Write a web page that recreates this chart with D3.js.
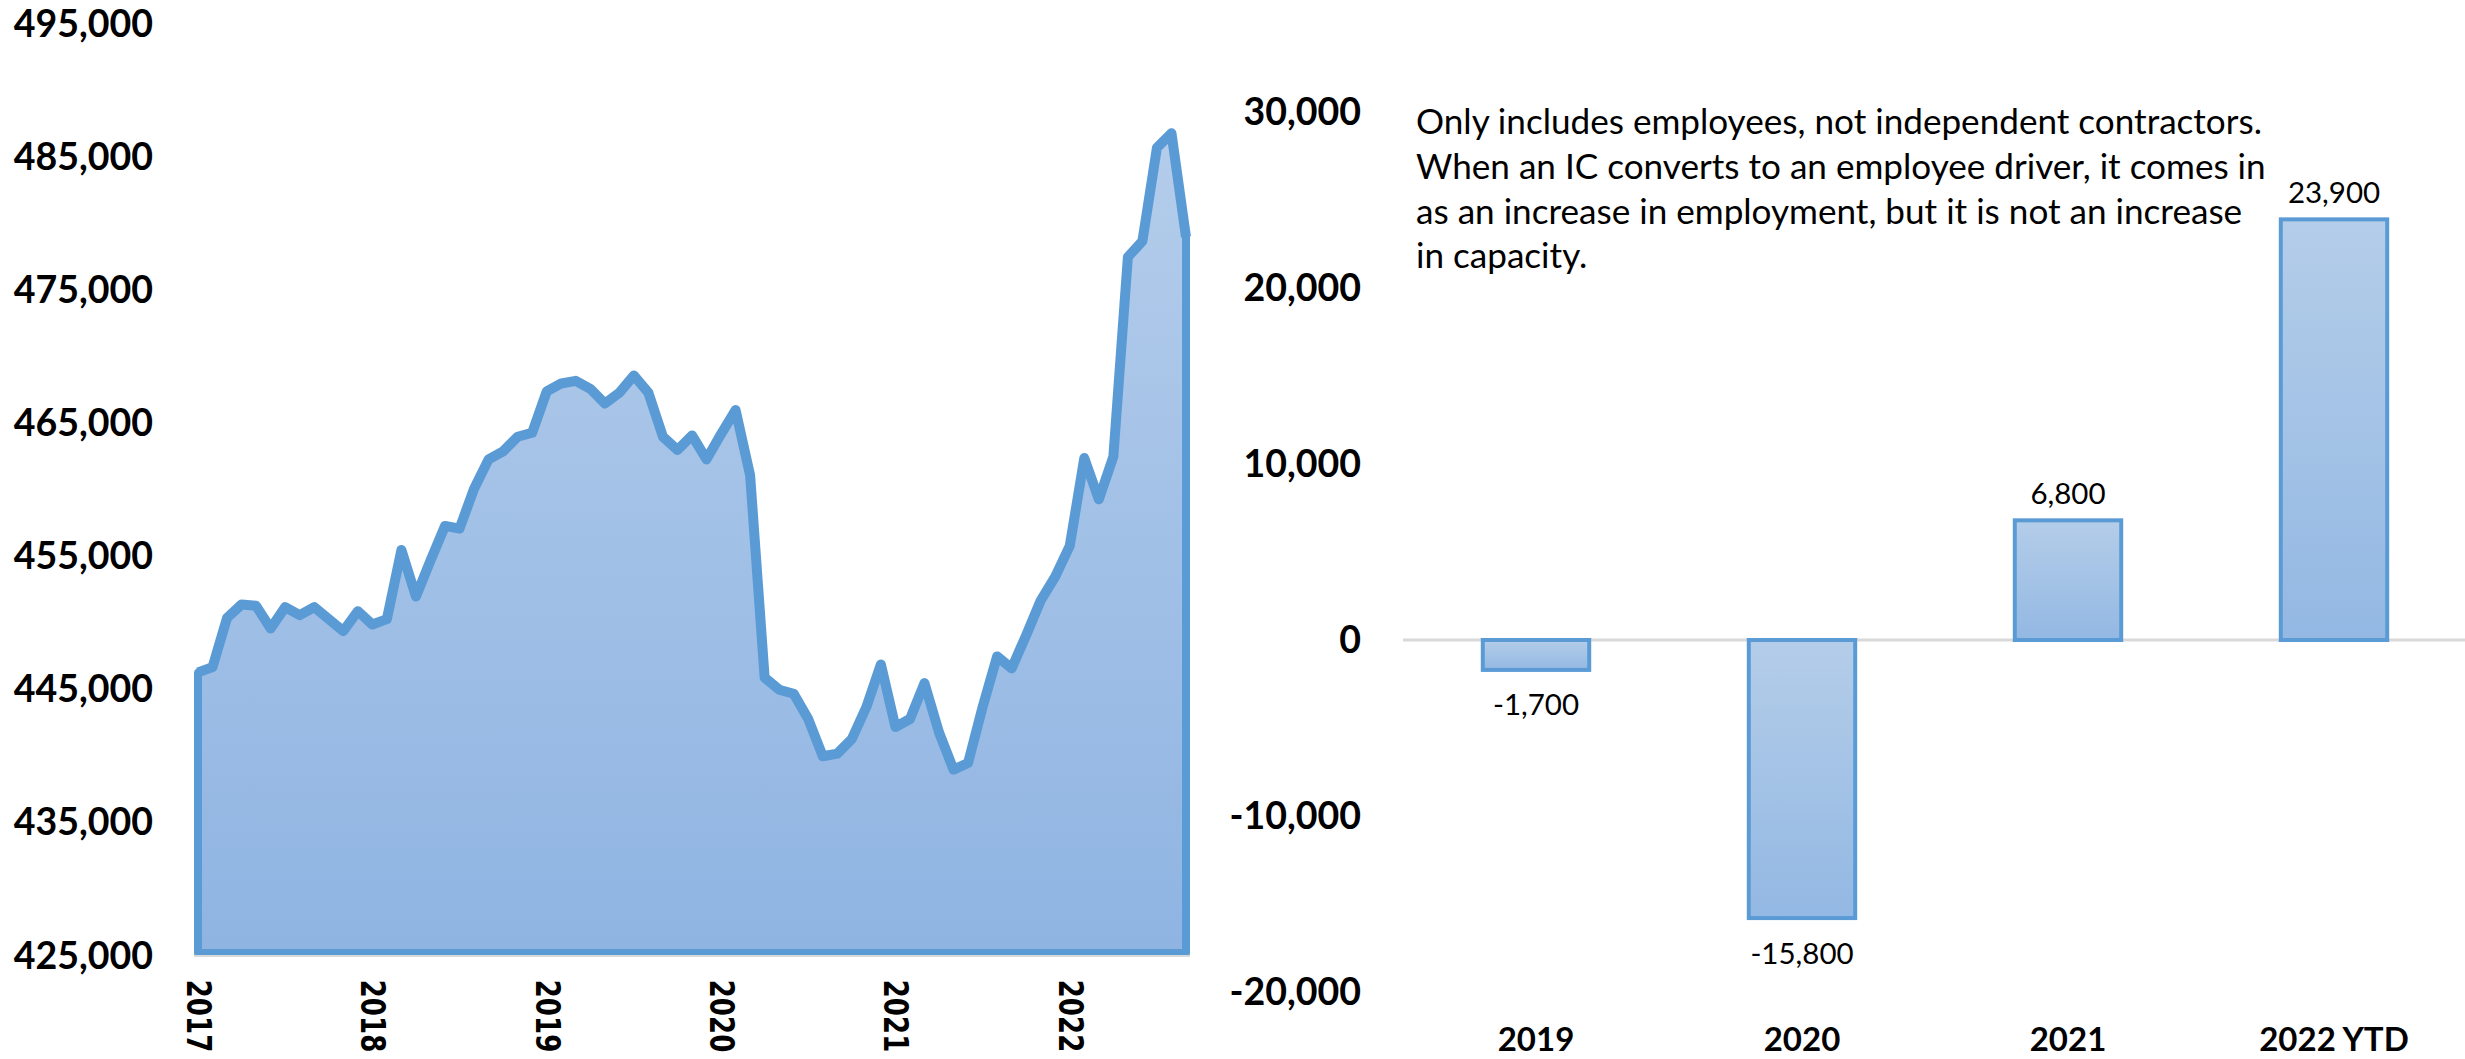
<!DOCTYPE html>
<html><head><meta charset="utf-8">
<script src="https://cdn.jsdelivr.net/npm/d3@7"></script>
<style>html,body{margin:0;padding:0;background:#fff;} svg{display:block;}</style>
</head><body>
<svg id="chart" width="2465" height="1059"></svg>
<script>
// ---------------- DATA ----------------
// Monthly employment, Jan 2017 .. Sep 2022
const employment = [
  446300, 446700, 450400, 451400, 451300, 449600, 451200, 450600, 451200, 450300, 449400, 450900,
  449900, 450300, 455500, 452000, 454700, 457300, 457100, 460100, 462300, 462900, 464000, 464300,
  467400, 468000, 468200, 467600, 466500, 467300, 468600, 467300, 464000, 463000, 464100, 462300,
  464200, 466000, 461100, 445900, 445000, 444700, 442800, 440000, 440200, 441300, 443700, 446900,
  442200, 442800, 445500, 441800, 439000, 439500, 443700, 447500, 446600, 449100, 451700, 453500,
  455800, 462400, 459300, 462500, 477500, 478700, 485700, 486800, 479000
];
const yearLabels = ["2017", "2018", "2019", "2020", "2021", "2022"];
const leftTicks = [425000, 435000, 445000, 455000, 465000, 475000, 485000, 495000];

const barCategories = ["2019", "2020", "2021", "2022 YTD"];
const barValues = [-1700, -15800, 6800, 23900];
const rightTicks = [-20000, -10000, 0, 10000, 20000, 30000];

const noteLines = [
  "Only includes employees, not independent contractors.",
  "When an IC converts to an employee driver, it comes in",
  "as an increase in employment, but it is not an increase",
  "in capacity."
];

// ---------------- STYLE ----------------
const LINE = "#5b9bd5";
const FONT = "Lato, 'Open Sans', sans-serif";
const fmt = d3.formatLocale({decimal: ".", thousands: ",", grouping: [3], currency: ["$", ""], minus: "-"}).format(",");

const svg = d3.select("#chart");
svg.append("rect").attr("width", 2465).attr("height", 1059).attr("fill", "#fff");
const defs = svg.append("defs");

// ---------------- LEFT CHART ----------------
const xL = d3.scaleLinear().domain([0, employment.length - 1]).range([198, 1186]);
const yL = d3.scaleLinear().domain([425000, 495000]).range([956, 24]);

const ag = defs.append("linearGradient").attr("id", "areaGrad")
  .attr("gradientUnits", "userSpaceOnUse")
  .attr("x1", 0).attr("x2", 0).attr("y1", yL(495000)).attr("y2", yL(425000));
ag.append("stop").attr("offset", "0%").attr("stop-color", "#b9d0ec");
ag.append("stop").attr("offset", "100%").attr("stop-color", "#8fb4e2");

const baseY = yL(425000) - 3;
const area = d3.area()
  .x((d, i) => xL(i))
  .y0(baseY)
  .y1(d => yL(d));

svg.append("path")
  .datum(employment)
  .attr("d", area)
  .attr("fill", "url(#areaGrad)")
  .attr("stroke", LINE)
  .attr("stroke-width", 8)
  .attr("stroke-linejoin", "round");

// thicker top line
svg.append("path")
  .datum(employment)
  .attr("d", d3.line().x((d, i) => xL(i)).y(d => yL(d)))
  .attr("fill", "none")
  .attr("stroke", LINE)
  .attr("stroke-width", 10)
  .attr("stroke-linejoin", "round");

svg.append("line")
  .attr("x1", xL(0) - 4).attr("x2", xL(employment.length - 1) + 4)
  .attr("y1", yL(425000)).attr("y2", yL(425000))
  .attr("stroke", "#d9d9d9").attr("stroke-width", 2);

// left y axis
const gyL = svg.append("g").attr("transform", "translate(153,0)")
  .call(d3.axisLeft(yL).tickValues(leftTicks).tickFormat(fmt).tickSize(0).tickPadding(0));
gyL.select(".domain").remove();
gyL.selectAll("text")
  .attr("font-family", FONT).attr("font-weight", "bold")
  .attr("font-size", 37.5).attr("fill", "#000");

// left x axis (years, rotated)
const gxL = svg.append("g").attr("transform", "translate(0,1016)")
  .call(d3.axisBottom(xL).tickValues(yearLabels.map((y, k) => k * 12))
    .tickFormat((d, k) => yearLabels[k]).tickSize(0).tickPadding(0));
gxL.select(".domain").remove();
gxL.selectAll("text")
  .attr("x", 0).attr("y", 0).attr("dy", null)
  .attr("text-anchor", "middle")
  .attr("dominant-baseline", "central")
  .attr("transform", "rotate(90) scale(0.79,1)")
  .attr("font-family", "'DejaVu Sans', sans-serif")
  .attr("font-weight", "bold")
  .attr("font-size", 33)
  .attr("fill", "#000");

// ---------------- RIGHT CHART ----------------
const xB = d3.scaleBand().domain(barCategories).range([1403, 2467])
  .paddingInner(0.6).paddingOuter(0.3);
const yR = d3.scaleLinear().domain([-20000, 30000]).range([992, 112]);

const bg = defs.append("linearGradient").attr("id", "barGrad")
  .attr("x1", 0).attr("x2", 0).attr("y1", 0).attr("y2", 1);
bg.append("stop").attr("offset", "0%").attr("stop-color", "#b4cde9");
bg.append("stop").attr("offset", "100%").attr("stop-color", "#93b8e3");

svg.append("line")
  .attr("x1", 1403).attr("x2", 2465)
  .attr("y1", yR(0)).attr("y2", yR(0))
  .attr("stroke", "#d9d9d9").attr("stroke-width", 3);

svg.append("g").selectAll("rect")
  .data(barValues)
  .join("rect")
  .attr("x", (d, i) => xB(barCategories[i]))
  .attr("width", xB.bandwidth())
  .attr("y", d => Math.min(yR(d), yR(0)))
  .attr("height", d => Math.abs(yR(d) - yR(0)))
  .attr("fill", "url(#barGrad)")
  .attr("stroke", LINE)
  .attr("stroke-width", 4);

svg.append("g").selectAll("text")
  .data(barValues)
  .join("text")
  .attr("x", (d, i) => xB(barCategories[i]) + xB.bandwidth() / 2)
  .attr("y", d => d >= 0 ? yR(d) - 28 : yR(d) + 34)
  .attr("text-anchor", "middle")
  .attr("dominant-baseline", "central")
  .attr("font-family", FONT).attr("font-size", 29.5).attr("fill", "#000")
  .text(d => fmt(d));

// right y axis
const gyR = svg.append("g").attr("transform", "translate(1361,0)")
  .call(d3.axisLeft(yR).tickValues(rightTicks).tickFormat(fmt).tickSize(0).tickPadding(0));
gyR.select(".domain").remove();
gyR.selectAll("text")
  .attr("font-family", FONT).attr("font-weight", "bold")
  .attr("font-size", 37.5).attr("fill", "#000");

// right x axis
const gxR = svg.append("g").attr("transform", "translate(0,1039)")
  .call(d3.axisBottom(xB).tickSize(0).tickPadding(0));
gxR.select(".domain").remove();
gxR.selectAll("text")
  .attr("y", 0).attr("dy", "0.36em")
  .attr("font-family", FONT).attr("font-weight", "bold")
  .attr("font-size", 33).attr("fill", "#000");

// annotation
const note = svg.append("g");
const noteTexts = note.selectAll("text")
  .data(noteLines)
  .join("text")
  .attr("x", 1416)
  .attr("y", (d, i) => 120 + i * 44.8)
  .attr("dominant-baseline", "central")
  .attr("font-family", FONT).attr("font-size", 30).attr("fill", "#000")
  .text(d => d);
const w0 = noteTexts.node().getComputedTextLength();
const fs = 30 * 846 / w0;
noteTexts.attr("font-size", fs);
</script>
</body></html>
